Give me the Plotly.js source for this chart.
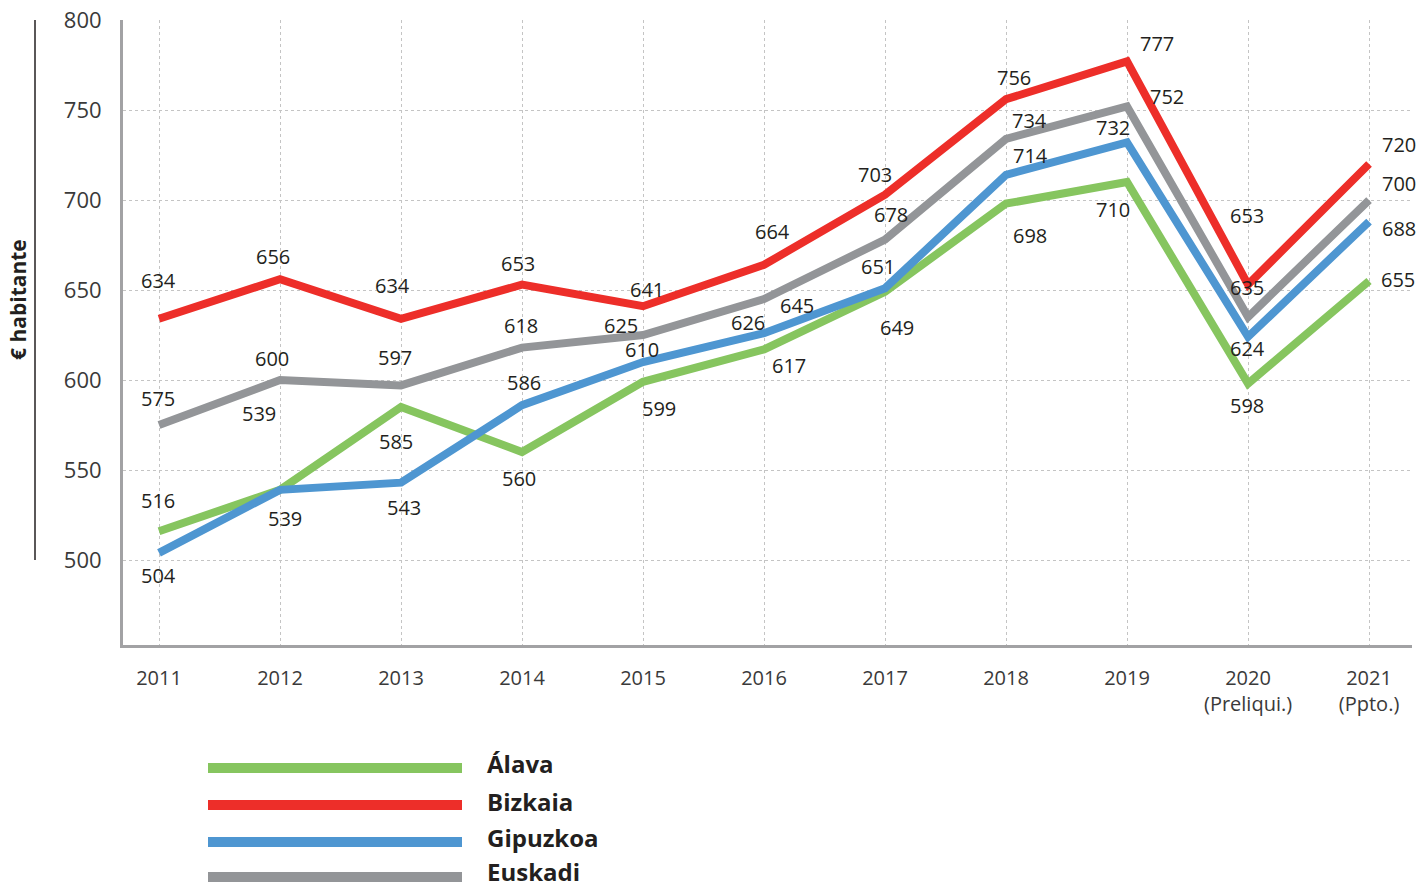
<!DOCTYPE html>
<html>
<head>
<meta charset="utf-8">
<script src="https://cdn.plot.ly/plotly-3.0.1.min.js"></script>
<style>html,body{margin:0;padding:0;background:#fff;}#chart{width:1421px;height:889px;}</style>
</head>
<body>
<div id="chart"></div>
<script>
// ---- data ----
const years = ['2011','2012','2013','2014','2015','2016','2017','2018','2019','2020<br>(Preliqui.)','2021<br>(Ppto.)'];
const seriesNames = ['Álava','Bizkaia','Gipuzkoa','Euskadi'];
const alava    = [516, 539, 585, 560, 599, 617, 649, 698, 710, 598, 655];
const bizkaia  = [634, 656, 634, 653, 641, 664, 703, 756, 777, 653, 720];
const gipuzkoa = [504, 539, 543, 586, 610, 626, 651, 714, 732, 624, 688];
const euskadi  = [575, 600, 597, 618, 625, 645, 678, 734, 752, 635, 700];
const yTicks = [500, 550, 600, 650, 700, 750, 800];

// ---- styles / label placement (pixels: [dx, dy], dy positive = down) ----
const colors = ['#86c55f', '#ed2e29', '#4e96d1', '#939598'];
const labelOffsets = [
  [[-1,-31],[-21,-76],[-5,34],[-3,26],[16,27],[25,16],[12,36],[24,32],[-14,27],[-1,22],[29,-2]],
  [[-1,-38],[-7,-23],[-9,-33],[-4,-21],[4,-17],[8,-33],[-10,-20],[8,-22],[30,-18],[-1,-69],[30,-20]],
  [[-1,23],[5,29],[3,25],[2,-23],[-1,-13],[-16,-11],[-7,-22],[24,-19],[-14,-15],[-1,12],[30,7]],
  [[-1,-27],[-8,-22],[-6,-28],[-1,-22],[-22,-10],[33,6],[6,-25],[23,-18],[40,-10],[-1,-30],[30,-17]]
];

const allSeries = [alava, bizkaia, gipuzkoa, euskadi];
const FONT = 'Open Sans, Noto Sans, sans-serif';

const traces = allSeries.map((vals, i) => ({
  type: 'scatter', mode: 'lines',
  x: years, y: vals, name: seriesNames[i],
  line: {color: colors[i], width: 8, shape: 'linear'},
  showlegend: false, hoverinfo: 'x+y'
}));

const annotations = [];
allSeries.forEach((vals, i) => {
  vals.forEach((v, j) => {
    annotations.push({
      x: j, y: v, xref: 'x', yref: 'y', text: String(v), showarrow: false,
      xshift: labelOffsets[i][j][0], yshift: -labelOffsets[i][j][1],
      font: {family: FONT, size: 20, color: '#231f20'}
    });
  });
});

const W = 1289, H = 625;

// y-axis title
annotations.push({
  xref: 'paper', yref: 'paper', x: (18-123)/W, y: (645-300)/H, xanchor: 'center', yanchor: 'middle',
  text: '<b>€ habitante</b>',
  textangle: -90, showarrow: false, font: {family: FONT, size: 21, color: '#231f20'}
});

// custom legend
const legendY = [764, 801, 837, 871];
const legendLineY = [768, 805, 842, 877];
const shapes = [{
  type: 'line', xref: 'paper', yref: 'y', x0: (35-123)/W, x1: (35-123)/W, y0: 500, y1: 800,
  line: {color: '#231f20', width: 1.5}
}];
seriesNames.forEach((n, i) => {
  const ly = (645 - legendLineY[i]) / H;
  shapes.push({
    type: 'line', xref: 'paper', yref: 'paper', x0: (208-123)/W, x1: (462-123)/W, y0: ly, y1: ly,
    line: {color: colors[i], width: 10}
  });
  annotations.push({
    xref: 'paper', yref: 'paper', x: (486-123)/W, y: (645 - legendY[i]) / H, xanchor: 'left', yanchor: 'middle',
    borderpad: 0,
    text: '<b>' + n + '</b>', showarrow: false, font: {family: FONT, size: 24, color: '#231f20'}
  });
});

const layout = {
  width: 1421, height: 889,
  margin: {l: 123, r: 9, t: 20, b: 244, pad: 0},
  paper_bgcolor: '#fff', plot_bgcolor: '#fff',
  showlegend: false,
  xaxis: {
    type: 'category', categoryorder: 'array', categoryarray: years,
    range: [-0.2975, 10.355],
    showgrid: true, gridcolor: '#c4c4c4', gridwidth: 1, griddash: 'dot',
    showline: true, linecolor: '#a2a2a4', linewidth: 3,
    ticks: '', ticklabelstandoff: 13, zeroline: false,
    tickfont: {family: FONT, size: 20, color: '#3a3a3a'}
  },
  yaxis: {
    range: [452.8, 800], tickvals: yTicks, ticktext: yTicks.map(String),
    showgrid: true, gridcolor: '#c4c4c4', gridwidth: 1, griddash: 'dot',
    showline: true, linecolor: '#a2a2a4', linewidth: 3,
    ticks: '', ticklabelstandoff: 14, zeroline: false,
    tickfont: {family: FONT, size: 22, color: '#3a3a3a'}
  },
  shapes: shapes,
  annotations: annotations,
  font: {family: FONT}
};

Plotly.newPlot('chart', traces, layout, {displayModeBar: false, staticPlot: true});
</script>
</body>
</html>
